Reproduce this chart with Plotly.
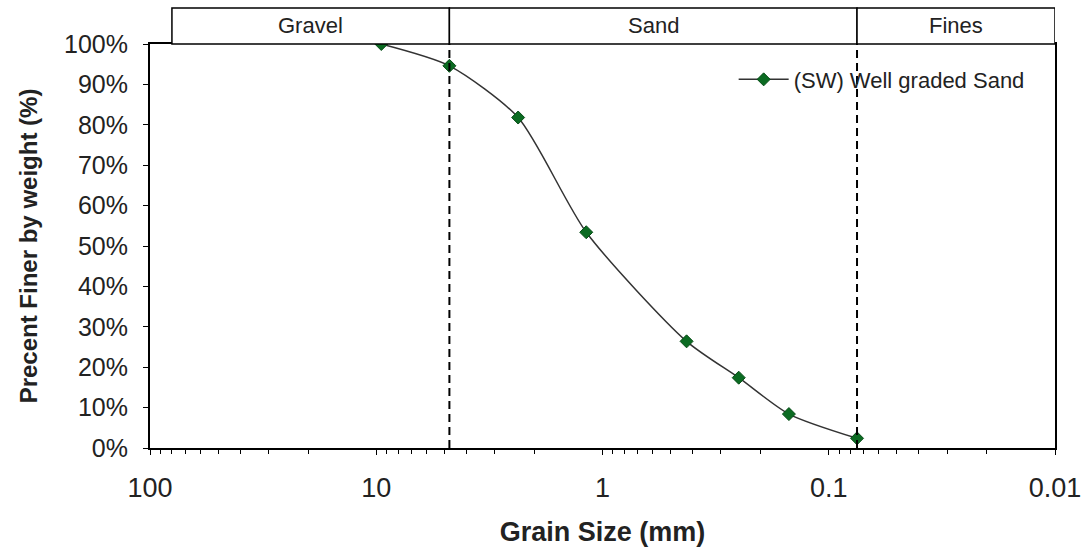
import math
import plotly.graph_objects as go

# Sieve analysis of a well graded sand (SW)
grain_size_mm = [9.5, 4.75, 2.36, 1.18, 0.425, 0.25, 0.15, 0.075]
percent_finer = [100.0, 94.6, 81.8, 53.4, 26.4, 17.4, 8.4, 2.4]
series_name = "(SW) Well graded Sand"

# Soil classification bands (mm) shown above the plot
band_edges_mm = [80, 4.75, 0.075, 0.01]
band_names = ["Gravel", "Sand", "Fines"]

# Tick values for both axes
x_tick_vals = [100, 10, 1, 0.1, 0.01]
x_tick_text = ["100", "10", "1", "0.1", "0.01"]
y_tick_vals = list(range(0, 101, 10))
y_tick_text = [f"{v}%" for v in y_tick_vals]
x_minor_vals = [m * 10 ** d for d in range(-2, 2) for m in range(2, 10)]

FONT = "Liberation Sans, Arial, sans-serif"
BAND_H = 36 / 404  # band height as a fraction of the plot height

fig = go.Figure()

fig.add_trace(go.Scatter(
    x=grain_size_mm,
    y=percent_finer,
    mode="lines+markers",
    name=series_name,
    line=dict(color="#333333", width=1.5, shape="spline", smoothing=0.7),
    marker=dict(symbol="diamond", size=10, color="#0b6b22",
                line=dict(color="#064d16", width=1)),
    cliponaxis=False,
))

# Boundary lines between gravel / sand / fines
shapes = []
for edge in band_edges_mm[1:3]:
    shapes.append(dict(type="line", xref="x", yref="paper",
                       x0=edge, x1=edge, y0=0, y1=1,
                       line=dict(color="black", width=2, dash="8px,5px")))

# Classification band boxes and their labels
annotations = []
for i, name in enumerate(band_names):
    left, right = band_edges_mm[i], band_edges_mm[i + 1]
    shapes.append(dict(type="rect", xref="x", yref="paper",
                       x0=left, x1=right, y0=1, y1=1 + BAND_H,
                       line=dict(color="black", width=1.5),
                       fillcolor="white"))
    mid = (math.log10(left) + math.log10(right)) / 2
    annotations.append(dict(x=mid, xref="x", y=1 + BAND_H / 2, yref="paper",
                            xanchor="center", yanchor="middle",
                            text=name, showarrow=False,
                            font=dict(family=FONT, size=22, color="#222222")))

fig.update_layout(
    width=1088, height=552,
    margin=dict(l=150, r=33, t=44, b=104, autoexpand=False),
    paper_bgcolor="white", plot_bgcolor="white",
    font=dict(family=FONT, color="#222222"),
    shapes=shapes,
    annotations=annotations,
    showlegend=True,
    legend=dict(x=0.972, xanchor="right", y=0.912, yanchor="middle",
                bgcolor="rgba(0,0,0,0)", borderwidth=0,
                font=dict(family=FONT, size=22, color="#222222"),
                itemwidth=50),
)

fig.update_xaxes(
    type="log", range=[2, -2], automargin=False,
    tickvals=x_tick_vals, ticktext=x_tick_text,
    ticks="outside", ticklen=5, tickcolor="black",
    tickfont=dict(family=FONT, size=27, color="#222222"),
    ticklabelstandoff=10,
    minor=dict(tickvals=x_minor_vals, ticks="outside", ticklen=4,
               tickcolor="black", showgrid=False),
    showline=True, linecolor="black", linewidth=2, mirror=True,
    showgrid=False, zeroline=False,
    title=dict(text="<b>Grain Size (mm)</b>", standoff=20,
               font=dict(family=FONT, size=27, color="#222222")),
)

fig.update_yaxes(
    range=[0, 100], automargin=False,
    tickvals=y_tick_vals, ticktext=y_tick_text,
    ticks="outside", ticklen=5, tickcolor="black",
    tickfont=dict(family=FONT, size=25, color="#222222"),
    ticklabelstandoff=10,
    showline=True, linecolor="black", linewidth=2, mirror=True,
    showgrid=False, zeroline=False,
    title=dict(text="<b>Precent Finer by weight (%)</b>", standoff=20,
               font=dict(family=FONT, size=24, color="#222222")),
)

fig.write_html("out.html")
